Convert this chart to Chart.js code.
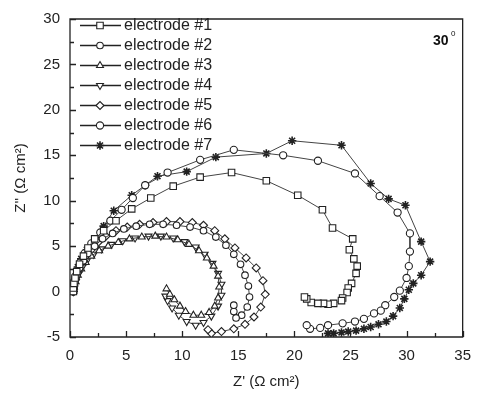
<!DOCTYPE html>
<html><head><meta charset="utf-8">
<script src="https://cdn.jsdelivr.net/npm/chart.js@4/dist/chart.umd.min.js"></script>
<style>html,body{margin:0;padding:0;background:#fff}#wrap{width:481px;height:395px}</style>
</head><body><div id="wrap"><canvas id="c" width="481" height="395"></canvas></div>
<script>
const labels = ['electrode #1','electrode #2','electrode #3','electrode #4','electrode #5','electrode #6','electrode #7'];
const xTicks = [0,5,10,15,20,25,30,35];
const yTicks = [-5,0,5,10,15,20,25,30];
const e1 = [[0.3,0],[0.3,0.4],[0.35,0.9],[0.45,1.5],[0.6,2.2],[0.85,3.0],[1.2,3.9],[1.6,4.8],[2.2,5.8],[3.0,6.7],[4.1,7.8],[5.5,9.1],[7.2,10.3],[9.2,11.6],[11.6,12.6],[14.4,13.1],[17.5,12.2],[20.3,10.6],[22.5,9.0],[23.4,7.0],[25.2,5.8],[24.9,4.6],[25.3,3.6],[25.6,2.8],[25.5,2.0],[25.1,0.9],[24.8,0.4],[24.7,-0.1],[24.3,-0.7],[24.2,-1.0],[23.5,-1.3],[23.0,-1.4],[22.6,-1.3],[22.1,-1.3],[21.5,-1.2],[21.1,-0.8],[20.9,-0.6]];
const e2 = [[0.3,0],[0.3,0.3],[0.35,0.5],[0.4,0.8],[0.45,1.1],[0.6,1.8],[0.85,2.6],[1.2,3.4],[1.6,4.2],[2.2,5.0],[2.9,5.8],[3.8,6.4],[4.8,6.9],[5.9,7.2],[7.1,7.4],[8.3,7.4],[9.5,7.3],[10.7,7.1],[11.9,6.7],[13.0,6.0],[13.9,5.1],[14.6,4.1],[15.2,3.0],[15.6,1.8],[15.9,0.6],[16.0,-0.6],[15.8,-1.7],[15.3,-2.6],[14.8,-2.9],[14.6,-2.2],[14.6,-1.5]];
const e3 = [[0.3,0],[0.3,0.3],[0.35,0.5],[0.5,1.1],[0.7,1.8],[1.0,2.5],[1.4,3.2],[1.9,3.9],[2.6,4.5],[3.4,5.0],[4.3,5.4],[5.3,5.8],[6.4,6.0],[7.6,6.1],[8.6,6.0],[9.6,5.7],[10.6,5.2],[11.5,4.5],[12.2,3.7],[12.8,2.8],[13.2,1.7],[13.3,0.5],[13.2,-0.7],[12.9,-1.6],[12.4,-2.3],[11.7,-2.6],[11.0,-2.6],[10.3,-2.2],[9.8,-1.6],[9.3,-0.9],[8.9,-0.3],[8.6,0.3]];
const e4 = [[0.3,0],[0.3,0.3],[0.35,0.6],[0.5,1.2],[0.75,1.9],[1.1,2.7],[1.5,3.4],[2.1,4.1],[2.8,4.7],[3.7,5.2],[4.7,5.6],[5.8,5.9],[7.0,6.1],[8.1,6.1],[9.2,5.9],[10.2,5.5],[11.2,4.9],[12.0,4.1],[12.7,3.1],[13.2,2.0],[13.5,0.8],[13.5,-0.4],[13.2,-1.6],[12.6,-2.7],[11.9,-3.4],[11.2,-3.7],[10.4,-3.3],[9.7,-2.6],[9.1,-1.8],[8.7,-1.0],[8.5,-0.5]];
const e5 = [[0.3,0],[0.3,0.3],[0.35,0.6],[0.5,1.3],[0.7,2.1],[1.0,2.9],[1.4,3.8],[1.9,4.6],[2.5,5.4],[3.2,6.1],[4.1,6.7],[5.1,7.1],[6.2,7.4],[7.4,7.6],[8.6,7.7],[9.8,7.7],[10.9,7.6],[11.9,7.3],[12.9,6.7],[13.8,5.8],[14.7,4.8],[15.7,3.7],[16.6,2.6],[17.2,1.2],[17.4,-0.3],[17.0,-1.7],[16.4,-2.8],[15.6,-3.6],[14.6,-4.1],[13.5,-4.4],[12.6,-4.6],[12.3,-4.2]];
const e6 = [[0.3,0],[0.3,0.3],[0.35,0.6],[0.45,1.4],[0.65,2.3],[0.9,3.2],[1.3,4.2],[1.9,5.3],[2.7,6.5],[3.6,7.8],[4.6,9.0],[5.6,10.3],[6.7,11.7],[8.7,13.1],[11.6,14.5],[14.6,15.6],[19.0,15.0],[22.1,14.4],[25.4,13.0],[27.6,10.5],[29.2,8.7],[30.3,6.4],[30.3,4.4],[30.2,2.8],[30.0,1.5],[29.4,0.1],[28.9,-0.6],[28.1,-1.5],[27.7,-2.1],[27.1,-2.4],[26.2,-3.0],[25.4,-3.3],[24.3,-3.5],[23.0,-3.7],[22.3,-4.0],[21.4,-4.1],[21.1,-3.7]];
const e7 = [[0.3,0],[0.3,0.5],[0.35,1.0],[0.5,1.7],[0.7,2.7],[1.0,3.6],[1.5,4.6],[2.3,5.7],[3.0,7.2],[3.9,8.9],[5.5,10.6],[6.7,11.7],[7.8,12.7],[10.4,13.2],[13.0,14.8],[17.5,15.2],[19.8,16.6],[24.2,16.1],[26.8,11.9],[28.4,10.2],[29.9,9.5],[31.3,5.5],[32.1,3.3],[31.3,1.8],[30.6,0.9],[30.2,0.2],[29.8,-0.8],[29.4,-1.8],[28.8,-2.7],[28.2,-3.3],[27.5,-3.6],[26.8,-3.9],[26.2,-4.1],[25.5,-4.3],[24.8,-4.4],[24.2,-4.5],[23.5,-4.6],[23.0,-4.6]];

const series = [e1,e2,e3,e4,e5,e6,e7];
const styles = [
  {ps:'rect', r:4.6, rot:0, fill:'#fff'},
  {ps:'circle', r:3.3, rot:0, fill:'#fff'},
  {ps:'triangle', r:4, rot:0, fill:'#fff'},
  {ps:'triangle', r:4, rot:180, fill:'#fff'},
  {ps:'rectRot', r:4, rot:0, fill:'#fff'},
  {ps:'circle', r:3.6, rot:0, fill:'#fff'},
  {ps:'star', r:4.2, rot:0, fill:'#111'}
];
const ink = '#222';
const FONT = "'Liberation Sans', Arial, sans-serif";

const datasets = series.map((d,i)=>({
  label: labels[i],
  data: d.map(p=>({x:p[0], y:p[1]})),
  showLine: true,
  borderColor: '#444',
  borderWidth: 1,
  pointStyle: styles[i].ps,
  pointRotation: styles[i].rot,
  pointRadius: styles[i].r,
  pointBackgroundColor: styles[i].fill,
  pointBorderColor: ink,
  pointBorderWidth: i===6 ? 1.6 : 1.1
}));

const framePlugin = {
  id:'frameTicks',
  beforeDatasetsDraw(chart){
    const {ctx, chartArea:a, scales:{x,y}} = chart;
    ctx.save();
    ctx.strokeStyle = ink; ctx.lineWidth = 1.3;
    ctx.beginPath();
    ctx.rect(a.left, a.top, a.right-a.left, a.bottom-a.top);
    x.ticks.forEach(t=>{
      const px = Math.round(x.getPixelForValue(t.value))+0.5;
      const len = (t.value % 5 === 0) ? 6 : 4;
      ctx.moveTo(px, a.bottom); ctx.lineTo(px, a.bottom-len);
    });
    y.ticks.forEach(t=>{
      const py = Math.round(y.getPixelForValue(t.value))+0.5;
      const len = (t.value % 5 === 0) ? 6 : 4;
      ctx.moveTo(a.left, py); ctx.lineTo(a.left+len, py);
    });
    ctx.stroke();
    ctx.restore();
  },
  afterDraw(chart){
    const {ctx} = chart;
    ctx.save();
    chart.data.datasets.forEach((ds,i)=>{
      const yy = 25 + 20*i;
      ctx.strokeStyle = '#222'; ctx.lineWidth = 1.3;
      ctx.beginPath(); ctx.moveTo(80, yy+0.5); ctx.lineTo(121, yy+0.5); ctx.stroke();
      ctx.fillStyle = ds.pointBackgroundColor; ctx.strokeStyle = ink; ctx.lineWidth = ds.pointBorderWidth;
      Chart.helpers.drawPoint(ctx, {pointStyle: ds.pointStyle, rotation: ds.pointRotation, radius: ds.pointRadius, borderWidth: ds.pointBorderWidth}, 100, yy+0.5);
      ctx.fillStyle = '#222';
      ctx.font = '16px ' + FONT;
      ctx.textBaseline = 'middle'; ctx.textAlign = 'left';
      ctx.fillText(ds.label, 124, yy+1);
    });
    ctx.fillStyle = '#111';
    ctx.font = 'bold 14px ' + FONT;
    ctx.textBaseline = 'alphabetic';
    ctx.fillText('30', 433, 45);
    ctx.font = '8px ' + FONT;
    ctx.fillText('0', 451, 36);
    ctx.restore();
  }
};

new Chart(document.getElementById('c'), {
  type: 'scatter',
  data: { datasets },
  plugins: [framePlugin],
  options: {
    responsive: false,
    animation: false,
    layout: { padding: { top: 13, right: 12, left: 8, bottom: 0 } },
    plugins: { legend: { display: false }, tooltip: { enabled: false } },
    scales: {
      x: {
        type: 'linear', min: 0, max: 35,
        afterBuildTicks: s => { s.ticks = []; for (let v=0; v<=35; v+=2.5) s.ticks.push({value:v}); },
        afterFit: s => { s.height = 58; },
        grid: { display: false, drawTicks: false },
        border: { display: false },
        ticks: { font: { size: 15, family: FONT }, color: '#222', padding: 10, maxRotation: 0, autoSkip: false,
          callback: v => (v % 5 === 0 ? String(v) : '') },
        title: { display: true, text: "Z' (\u03A9 cm\u00B2)", font: { size: 15, family: FONT }, color: '#222', padding: { top: 8 } }
      },
      y: {
        type: 'linear', min: -5, max: 30,
        afterBuildTicks: s => { s.ticks = []; for (let v=-5; v<=30; v+=2.5) s.ticks.push({value:v}); },
        afterFit: s => { s.width = 62; },
        grid: { display: false, drawTicks: false },
        border: { display: false },
        ticks: { font: { size: 15, family: FONT }, color: '#222', padding: 10, autoSkip: false,
          callback: v => (v % 5 === 0 ? String(v) : '') },
        title: { display: true, text: "Z'' (\u03A9 cm\u00B2)", font: { size: 15, family: FONT }, color: '#222', padding: { bottom: 4 } }
      }
    }
  }
});
</script>
</body></html>
